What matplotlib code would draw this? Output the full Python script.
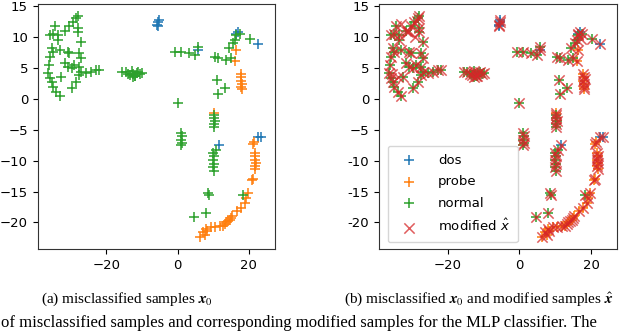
import matplotlib.pyplot as plt

# t-SNE embedding of misclassified samples
dos_x = [-5.5, -5.8, -5.3, -5.6, 5.8, 16.4, 16.9, 22.5, 11.7, 22.6, 23.4]
dos_y = [12.4, 12.0, 12.8, 11.8, 8.0, 10.6, 10.8, 8.9, -7.4, -6.1, -6.1]

probe_x = [16.1, 16.4, 17.8, 17.9, 17.8, 18.0, 17.9, 18.0, 10.3, 21.4, 21.1,
           21.7, 21.8, 21.6, 21.9, 21.7, 21.8, 21.1, 20.8, 19.7, 19.2, 18.8,
           17.8, 16.7, 15.0, 14.6, 14.2, 13.3, 12.8, 11.9, 10.5, 9.4, 8.0,
           7.2, 7.8, 6.4, 8.3, 13.6, 15.2]
probe_y = [6.1, 8.0, 4.0, 3.5, 3.0, 2.5, 2.0, 1.6, -2.3, -6.9, -7.3,
           -8.8, -9.3, -9.8, -10.3, -10.8, -11.4, -12.9, -13.1, -15.2, -16.0, -16.8,
           -17.6, -18.2, -19.2, -19.6, -19.8, -20.3, -20.5, -20.6, -20.8, -20.8, -21.1,
           -21.6, -22.0, -22.4, -21.4, -20.0, -19.0]

normal_x = [-34.4, -35.0, -35.8, -33.6, -33.6, -31.7, -30.3, -29.4, -28.4, -28.0,
            -28.0, -28.0, -27.0, -35.3, -35.0, -33.0, -35.8, -36.0, -36.3, -35.8,
            -35.3, -35.0, -34.0, -33.0, -32.6, -30.8, -30.3, -31.7, -30.8, -29.7,
            -28.9, -27.5, -27.0, -27.5, -27.0, -27.5, -28.4, -29.7, -25.6, -24.2,
            -22.8, -21.9,
            -15.5, -14.5, -13.8, -13.2, -12.8, -12.4, -12.0, -11.5, -11.0, -10.5,
            -10.0, -12.6, -11.8,
            -0.6, 1.1, 3.1, 5.0, 5.6, 0.0,
            1.0, 1.3, 1.1, 1.2, 0.9,
            10.5, 11.4, 13.6, 15.0, 14.4, 11.1, 13.3, 11.4,
            16.1, 16.4, 17.5, 15.6, 20.3,
            10.3, 10.2, 10.4, 10.3, 10.2,
            10.0, 10.1, 9.9, 10.2, 10.0, 10.3, 10.8,
            18.3, 8.6, 8.8, 8.0, 4.7]
normal_y = [11.9, 10.6, 10.3, 10.3, 9.5, 11.1, 11.8, 12.4, 13.2, 13.5,
            11.5, 10.8, 9.2, 8.2, 7.6, 8.0, 6.8, 5.5, 4.2, 3.4,
            2.8, 2.0, 1.2, 0.5, 3.5, 7.6, 7.4, 5.8, 5.2, 5.0,
            5.5, 7.4, 6.6, 5.2, 4.4, 3.9, 2.8, 1.8, 4.2, 4.4,
            4.7, 4.7,
            4.3, 4.4, 4.1, 3.9, 4.5, 4.0, 3.8, 4.2, 4.4, 4.0,
            4.2, 3.6, 3.7,
            7.6, 7.6, 7.4, 7.1, 8.4, -0.6,
            -5.5, -6.0, -6.6, -7.1, -7.5,
            6.8, 6.6, 6.3, 6.6, 8.2, 3.1, 1.8, 0.8,
            9.5, 10.3, 10.6, 9.0, 9.8,
            -2.6, -3.1, -3.6, -4.1, -4.6,
            -8.7, -9.3, -9.9, -10.5, -11.0, -11.6, -8.3,
            -15.5, -15.2, -15.6, -18.5, -19.1]

# modified samples sit on top of the originals, plus a few extra ones
extra_x = [-33.0, -31.2, -28.6, -35.5, -33.8, -31.0, -29.0, 17.2, 18.4, 21.6]
extra_y = [12.2, 11.0, 12.6, 4.0, 3.6, 10.8, 10.0, 9.8, 3.2, -9.5]
xhat_x = dos_x + probe_x + normal_x + extra_x
xhat_y = dos_y + probe_y + normal_y + extra_y

captions = [r'(a) misclassified samples $\boldsymbol{x}_0$',
            r'(b) misclassified $\boldsymbol{x}_0$ and modified samples $\hat{\boldsymbol{x}}$']

fig = plt.figure(figsize=(6.4, 3.32), dpi=100)
ax1 = fig.add_axes([0.059, 0.25, 0.370, 0.738])
ax2 = fig.add_axes([0.592, 0.25, 0.372, 0.738])

for ax in (ax1, ax2):
    ax.scatter(dos_x, dos_y, marker='+', color='tab:blue', s=55, linewidths=1.1, label='dos')
    ax.scatter(probe_x, probe_y, marker='+', color='tab:orange', s=55, linewidths=1.1, label='probe')
    ax.scatter(normal_x, normal_y, marker='+', color='tab:green', s=55, linewidths=1.1, label='normal')
    ax.set_xlim(-39.2, 27.2)
    ax.set_ylim(-24.3, 15.4)
    ax.set_xticks([-20, 0, 20])
    ax.set_yticks([-20, -15, -10, -5, 0, 5, 10, 15])
    ax.tick_params(labelsize=9.5)
    for sp in ax.spines.values():
        sp.set_color('#333333')

ax2.scatter(xhat_x, xhat_y, marker='x', color='tab:red', s=55, linewidths=1.1,
            alpha=0.75, label=r'modified $\hat{x}$')
ax2.set_yticklabels(['-20', '-15', '-10', '\u22125', '0', '5', '10', '15'])
ax2.legend(loc='lower left', fontsize=9.5, labelspacing=0.65, handletextpad=1.2,
           borderpad=0.6, bbox_to_anchor=(0.01, 0.0))

fig.text(0.198, 0.098, captions[0], ha='center', va='center', fontsize=11,
         family='Liberation Serif', math_fontfamily='stix')
fig.text(0.538, 0.098, captions[1], ha='left', va='center', fontsize=11,
         family='Liberation Serif', math_fontfamily='stix')
fig.text(0.002, 0.004, 'of misclassified samples and corresponding modified samples '
         'for the MLP classifier. The', ha='left', va='bottom', fontsize=12,
         family='Liberation Serif')

fig.savefig('out.png', dpi=100)
